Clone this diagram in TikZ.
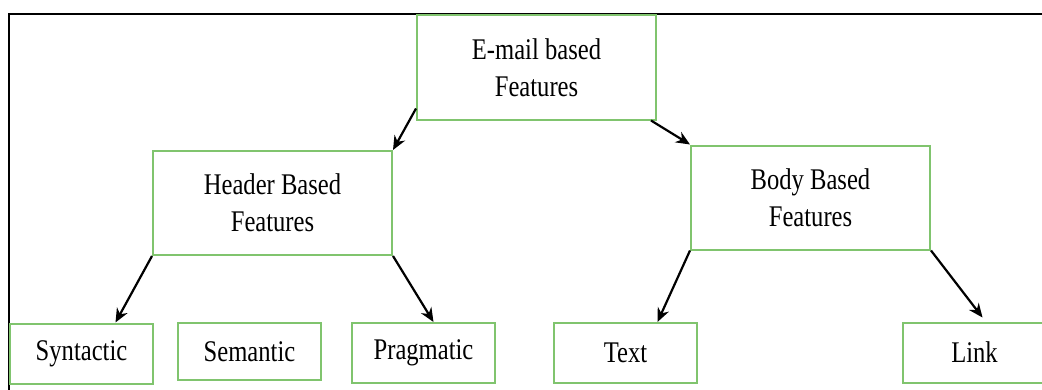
\documentclass[tikz,border=0pt]{standalone}
\usepackage{fontspec}
\setmainfont{Liberation Serif}[FakeStretch=0.82]
\usepackage{xcolor}
\usepackage{tikz}
\usetikzlibrary{arrows.meta,positioning}
\definecolor{boxGreen}{HTML}{80C46E}

\tikzset{
  featbox/.style={draw=boxGreen,line width=1pt,rectangle,inner sep=0pt,
    minimum width=119.5pt,minimum height=52pt,align=center,
    font=\fontsize{15}{18.5}\selectfont},
  leafbox/.style={featbox,minimum width=71.5pt,minimum height=30pt},
  arr/.style={line width=1.1pt,-{Stealth[length=7pt,width=6pt]}}
}

\begin{document}
\begin{tikzpicture}[x=0.5pt,y=-0.5pt]
    \clip (0,0) rectangle (1042,390);
    \draw[line width=1pt] (9,390) -- (9,14) -- (1042,14);
    \node[featbox] (email) at (536.5,67.5) {E-mail based\\Features};
    \node[featbox] (header) at (272.5,203) {Header Based\\Features};
    \node[featbox] (body) at (810.5,197.5) {Body Based\\Features};
    \node[leafbox] (syn) at (81.5,353.5) {Syntactic};
    \node[leafbox,minimum height=28.5pt] (sem) at (249.5,351.5) {Semantic};
    \node[leafbox] (prag) at (423.5,353) {Pragmatic};
    \node[leafbox] (txt) at (625.5,353) {Text};
    \node[leafbox] (link) at (974.5,352.5) {Link};
    \draw[arr] ([yshift=6pt]email.south west) -- (header.north east);
    \draw[arr] ([xshift=-3pt]email.south east) -- (body.north west);
    \draw[arr] (header.south west) -- ([xshift=17pt]syn.north);
    \draw[arr] (header.south east) -- ([xshift=5pt]prag.north);
    \draw[arr] (body.south west) -- ([xshift=16pt]txt.north);
    \draw[arr] (body.south east) -- ([xshift=4pt,yshift=2pt]link.north);
  \end{tikzpicture}
\end{document}
